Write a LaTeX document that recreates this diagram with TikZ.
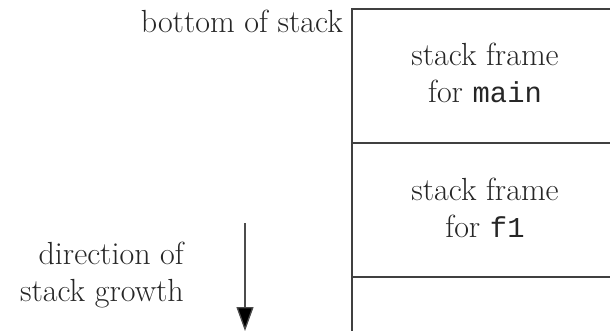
\documentclass[tikz,border=0pt]{standalone}
\usepackage{fontspec}
\setmonofont{Liberation Mono}[Scale=0.9]
\usetikzlibrary{arrows.meta}
\tikzset{
  lbl/.style={font=\fontsize{32}{37}\selectfont, inner sep=0pt, text=black!85},
  wall/.style={line width=1.5pt, draw=black!75},
  growarrow/.style={line width=1.3pt, draw=black!70, -{Triangle[length=24pt,width=17pt,fill=black]}}
}
\begin{document}
\begin{tikzpicture}[x=1pt,y=-1pt]
\useasboundingbox (0,0) rectangle (610,331);
% stack outline
\coordinate (tl) at (352,9);
\coordinate (tr) at (611,9);
\coordinate (bl) at (352,332);
\coordinate (m1l) at (352,143);
\coordinate (m1r) at (611,143);
\coordinate (m2l) at (352,277);
\coordinate (m2r) at (611,277);
\draw[wall] (tr) -- (tl) -- (bl);
\draw[wall] (m1l) -- (m1r);
\draw[wall] (m2l) -- (m2r);
% labels
\node[lbl, anchor=base east] (bos) at (343,33) {bottom of stack};
\node[lbl, align=center] (fmain) at (485,73) {stack frame\\for \texttt{main}};
\node[lbl, align=center] (ff1) at (485,208) {stack frame\\for \texttt{f1}};
\node[lbl, align=right, anchor=east] (dir) at (184,275) {direction of\\stack growth};
% arrow
\coordinate (as) at (245,223);
\coordinate (ae) at (245,331);
\draw[growarrow] (as) -- (ae);
\end{tikzpicture}
\end{document}
